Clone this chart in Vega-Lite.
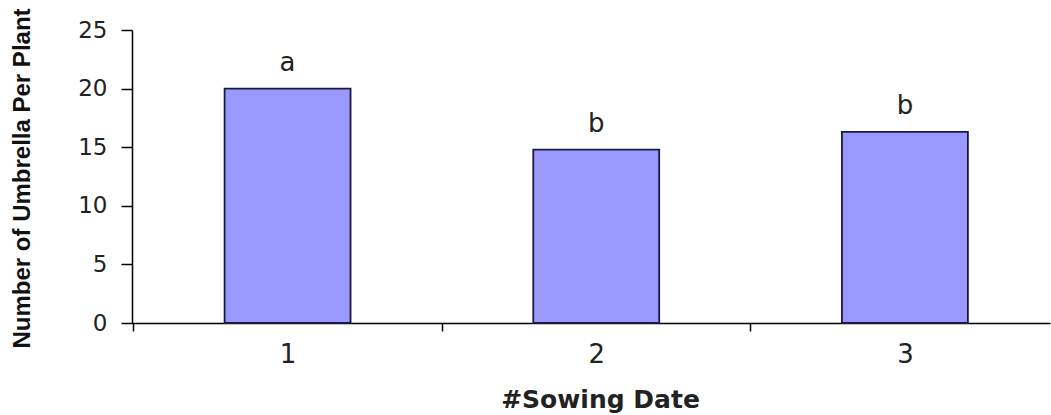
{
  "$schema": "https://vega.github.io/schema/vega-lite/v6.json",
  "autosize": "none",
  "padding": {"left": 132, "top": 30, "right": 1, "bottom": 92},
  "width": 918,
  "height": 293,
  "background": "white",
  "data": {"values": [
    {"date": "1", "umbrella": 20.0, "group": "a"},
    {"date": "2", "umbrella": 14.8, "group": "b"},
    {"date": "3", "umbrella": 16.3, "group": "b"}
  ]},
  "encoding": {
    "x": {
      "field": "date", "type": "nominal", "sort": null,
      "scale": {"paddingInner": 0.592, "paddingOuter": 0.283, "align": 0.53},
      "axis": {
        "title": "#Sowing Date", "labelAngle": 0,
        "domainColor": "black", "domainWidth": 1.5,
        "tickColor": "black", "tickSize": 8, "tickWidth": 1.5,
        "tickOffset": -154.5, "labelOffset": 154.5,
        "labelFont": "DejaVu Sans", "labelFontSize": 26, "labelColor": "#222",
        "labelPadding": 10,
        "titleFont": "DejaVu Sans", "titleFontSize": 25, "titleFontWeight": "bold", "titleColor": "#222",
        "titleBaseline": "middle", "titleY": 76, "titleX": 468
      }
    },
    "y": {
      "field": "umbrella", "type": "quantitative",
      "scale": {"domain": [0, 25], "nice": false},
      "axis": {
        "title": "Number of Umbrella Per Plant", "values": [0, 5, 10, 15, 20, 25], "grid": false,
        "domainColor": "black", "domainWidth": 1.5,
        "tickColor": "black", "tickSize": 11, "tickWidth": 1.5,
        "labelFont": "DejaVu Sans", "labelFontSize": 23, "labelColor": "#222",
        "labelPadding": 14,
        "titleFont": "Liberation Sans", "titleFontSize": 24, "titleFontWeight": "bold", "titleColor": "#111",
        "titleAngle": 270, "titleBaseline": "middle", "titleAlign": "center",
        "titleX": -110, "titleY": 148
      }
    }
  },
  "layer": [
    {"mark": {"type": "bar", "fill": "#9999FF", "stroke": "#1a1a40", "strokeWidth": 1.8}},
    {"mark": {"type": "text", "baseline": "alphabetic", "dy": -18, "font": "DejaVu Sans", "fontSize": 26, "color": "#222"},
     "encoding": {"text": {"field": "group"}}}
  ],
  "config": {"view": {"stroke": null}}
}
